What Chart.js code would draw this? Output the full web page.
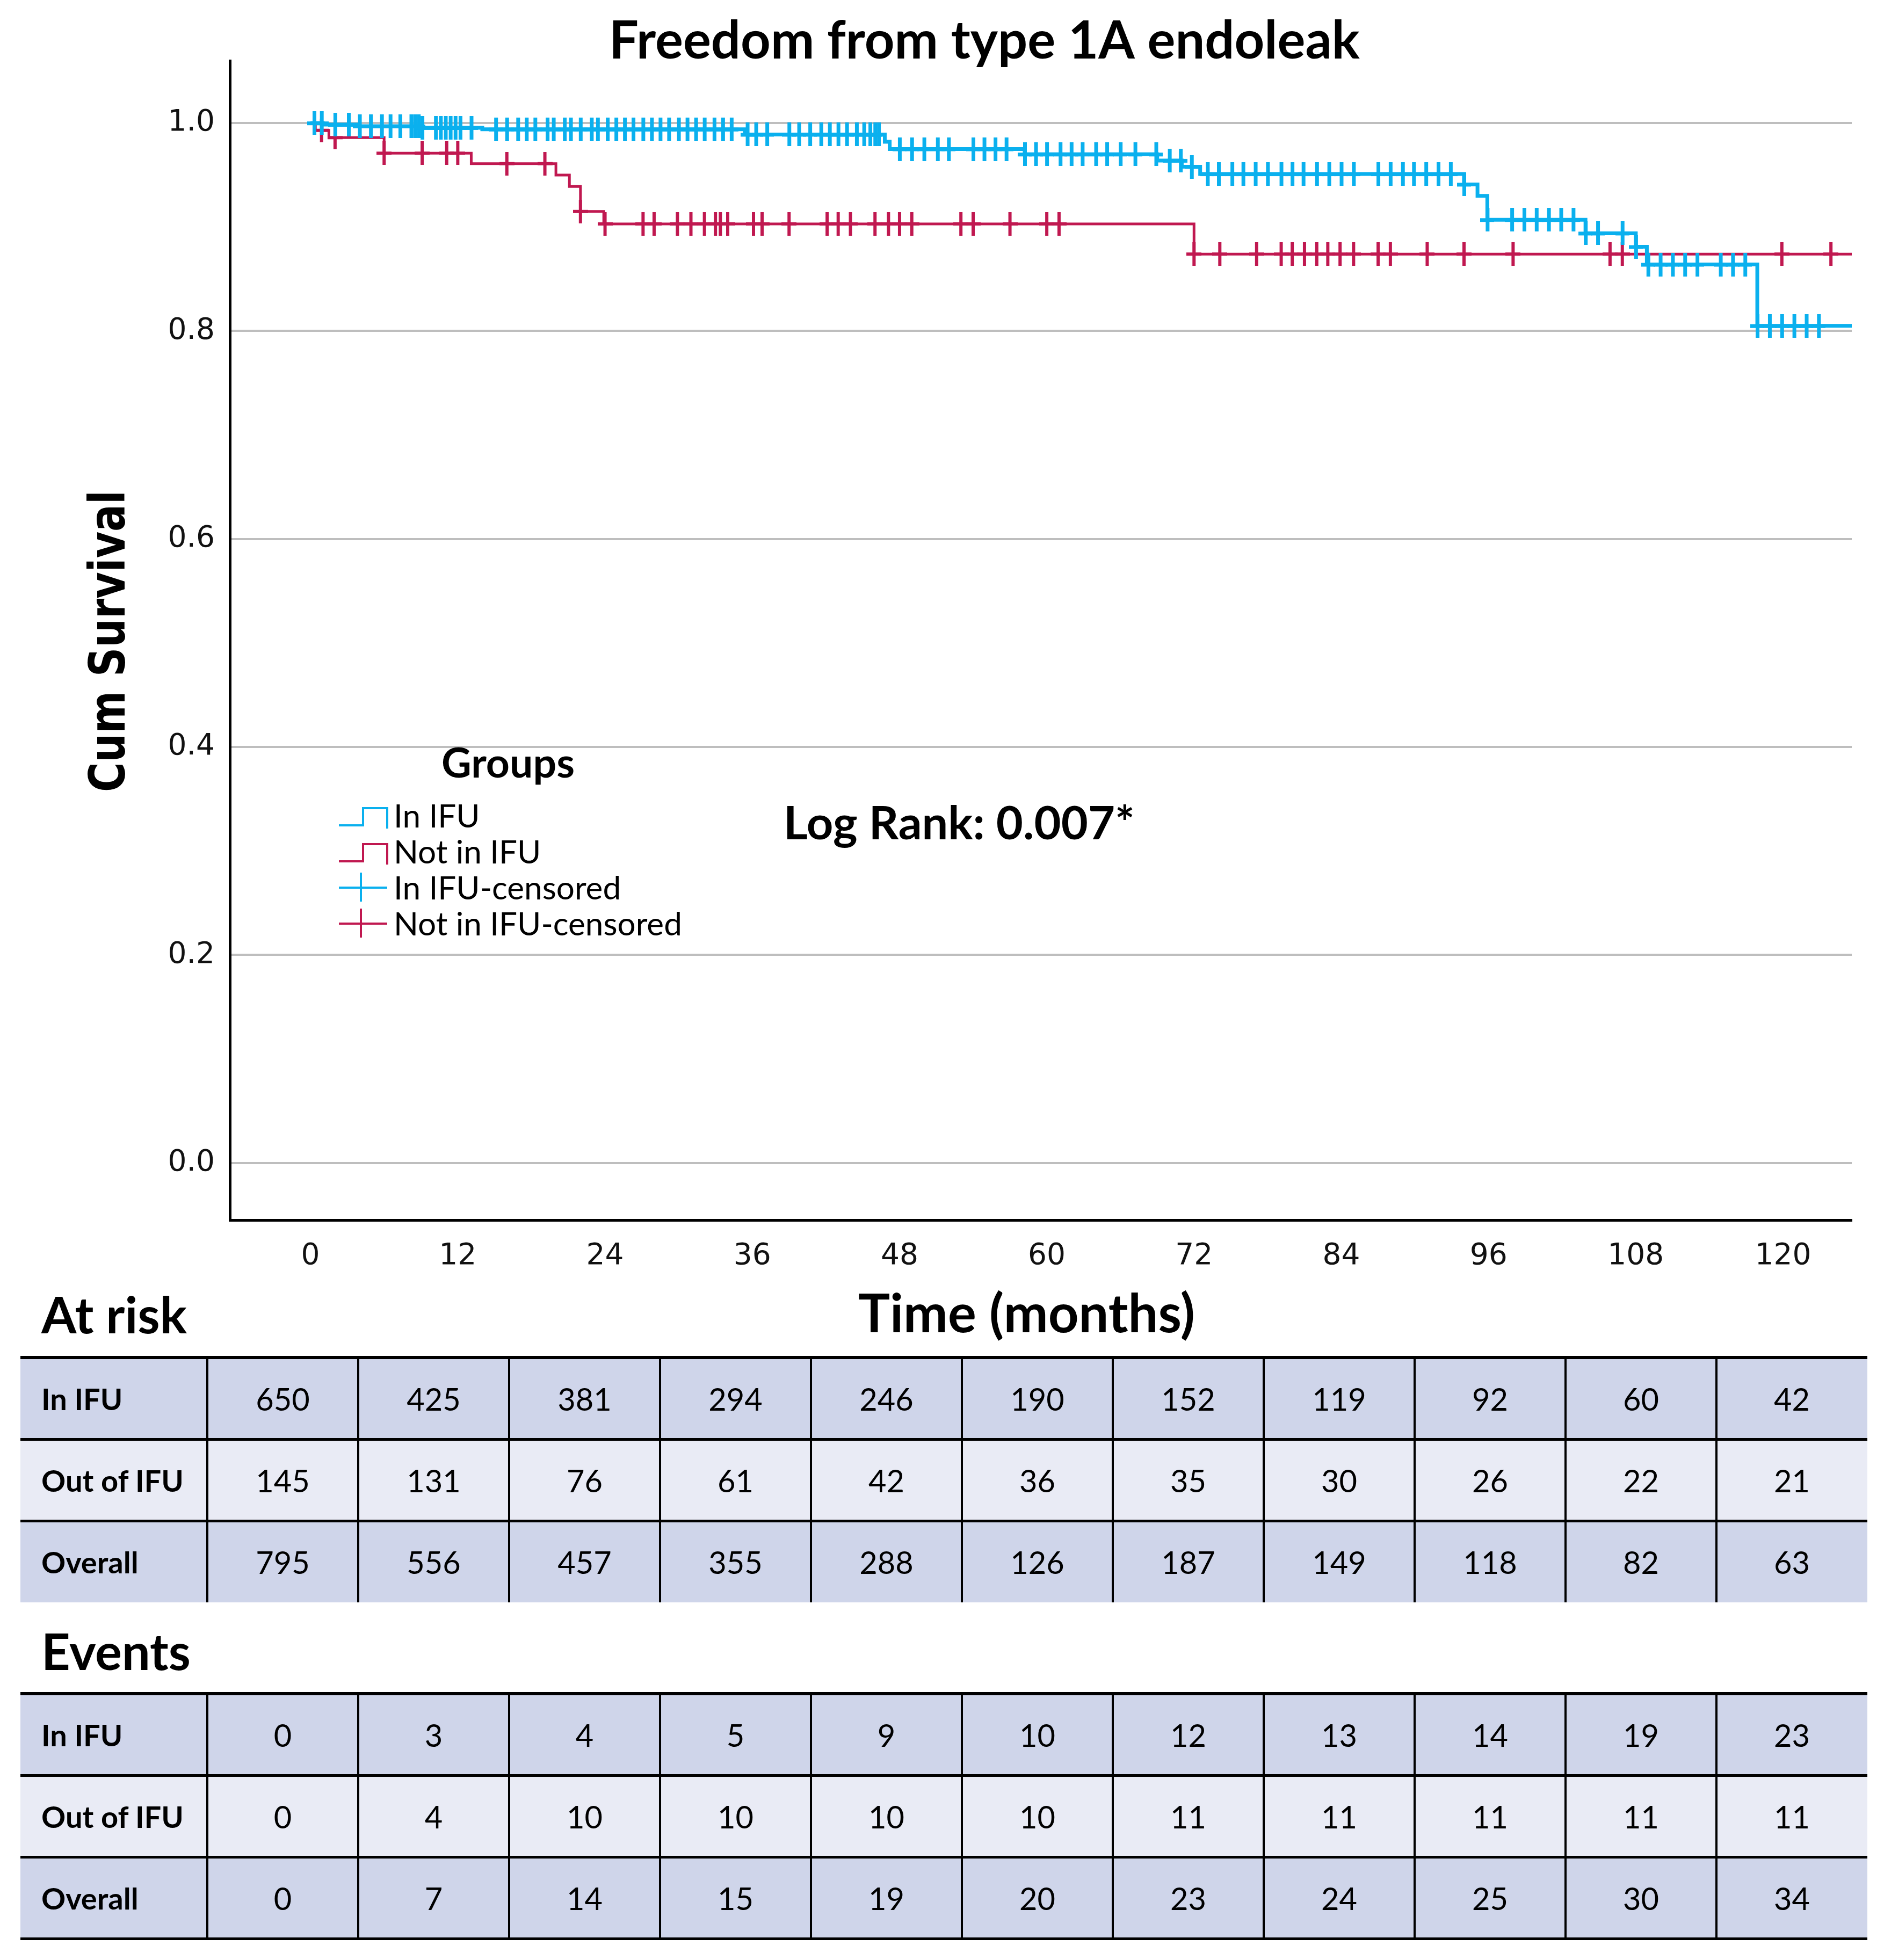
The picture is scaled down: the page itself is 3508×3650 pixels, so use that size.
<!DOCTYPE html>
<html>
<head>
<meta charset="utf-8">
<script src="https://cdn.jsdelivr.net/npm/chart.js@4.4.0/dist/chart.umd.min.js"></script>
<style>
html,body{margin:0;padding:0;background:#fff;}
#wrap{position:relative;width:3508px;height:3650px;overflow:hidden;background:#fff;}
#c{position:absolute;left:0;top:0;width:3508px;height:3650px;}
.box{position:absolute;}
.cell{position:absolute;display:flex;align-items:center;justify-content:center;font-family:Lato,sans-serif;color:#000;white-space:nowrap;}
.lab{justify-content:flex-start;font-weight:700;}
</style>
</head>
<body>
<div id="wrap"><canvas id="c" width="3508" height="3650"></canvas></div>
<script>
// ---------------- data ----------------
const xTickValues = [0, 12, 24, 36, 48, 60, 72, 84, 96, 108, 120];
const yTickValues = [0, 0.2, 0.4, 0.6, 0.8, 1.0];

const inIfuEventTimes = [1.0, 4.0, 9.0, 14.0, 35.4, 46.8, 47.2, 58.2, 69.0, 71.0, 72.5, 94.0, 95.1, 95.9, 103.9, 108.0, 108.9, 117.9];
const inIfuSurvival   = [0.9985, 0.997, 0.9955, 0.994, 0.989, 0.982, 0.975, 0.970, 0.964, 0.958, 0.951, 0.941, 0.930, 0.907, 0.894, 0.881, 0.864, 0.805];
const inIfuCensorTimes = [0.3, 0.9, 2.0, 3.1, 4.0, 4.9, 5.8, 6.5, 7.3, 8.2, 8.5, 8.8, 9.1, 10.2, 10.6, 11.0, 11.4, 11.8, 12.2, 13.1, 15.1, 16.0, 16.9, 17.6, 18.3, 19.3, 19.8, 20.7, 21.2, 22.0, 22.9, 23.4, 24.2, 24.9, 25.6, 26.3, 27.1, 27.8, 28.5, 29.2, 30.0, 30.7, 31.4, 32.1, 32.9, 33.6, 34.3, 35.6, 36.3, 37.2, 39.0, 39.8, 40.7, 41.6, 42.3, 43.0, 43.7, 44.5, 45.1, 45.6, 46.0, 46.3, 48.0, 49.0, 50.0, 51.1, 52.0, 54.0, 54.9, 55.8, 56.7, 58.2, 59.1, 60.0, 61.1, 62.0, 62.9, 64.0, 64.9, 66.0, 67.2, 68.9, 70.0, 70.9, 71.8, 73.1, 74.0, 75.1, 76.0, 77.0, 78.0, 79.1, 80.0, 80.9, 82.0, 83.0, 84.0, 85.0, 87.0, 88.0, 89.0, 89.9, 90.9, 91.9, 92.9, 94.0, 95.9, 97.9, 98.9, 99.9, 100.9, 101.9, 102.9, 103.9, 104.9, 106.9, 108.0, 109.0, 110.0, 111.0, 112.0, 113.0, 114.9, 115.9, 116.9, 117.9, 118.9, 119.9, 120.9, 121.9, 122.9];
const inIfuLastFollowUp = 126;

const notInIfuEventTimes = [0.4, 1.5, 6.0, 13.1, 20.0, 21.1, 22.0, 23.9, 72.0];
const notInIfuSurvival   = [0.993, 0.986, 0.971, 0.961, 0.950, 0.939, 0.915, 0.903, 0.874];
const notInIfuCensorTimes = [0.9, 2.0, 6.0, 9.1, 11.1, 12.0, 16.0, 19.1, 22.0, 24.0, 27.1, 28.0, 29.9, 31.0, 32.1, 33.0, 33.4, 34.0, 36.1, 36.8, 39.0, 42.1, 43.0, 44.0, 46.0, 47.1, 48.0, 49.0, 53.0, 54.0, 57.0, 60.0, 61.0, 72.0, 74.1, 77.1, 79.1, 80.0, 81.0, 82.0, 82.9, 83.9, 85.0, 87.0, 88.0, 91.0, 94.0, 98.0, 105.9, 106.9, 119.9, 123.9];
const notInIfuLastFollowUp = 126;

const rowLabels = ['In IFU', 'Out of IFU', 'Overall'];
const atRiskInIFU   = [650, 425, 381, 294, 246, 190, 152, 119, 92, 60, 42];
const atRiskOutIFU  = [145, 131, 76, 61, 42, 36, 35, 30, 26, 22, 21];
const atRiskOverall = [795, 556, 457, 355, 288, 126, 187, 149, 118, 82, 63];
const eventsInIFU   = [0, 3, 4, 5, 9, 10, 12, 13, 14, 19, 23];
const eventsOutIFU  = [0, 4, 10, 10, 10, 10, 11, 11, 11, 11, 11];
const eventsOverall = [0, 7, 14, 15, 19, 20, 23, 24, 25, 30, 34];

const legendLabels = ['In IFU', 'Not in IFU', 'In IFU-censored', 'Not in IFU-censored'];

// ---------------- styles ----------------
const BLUE = '#0AB0EE';
const RED = '#C01850';

const meas = document.createElement('canvas').getContext('2d');
function fitSize(text, weight, family, width) {
  meas.font = weight + ' 100px ' + family;
  return 100 * width / meas.measureText(text).width;
}
function stepData(times, surv, end) {
  const d = [{x: 0, y: 1}];
  times.forEach((t, i) => d.push({x: t, y: surv[i]}));
  d.push({x: end, y: surv[surv.length - 1]});
  return d;
}
function survAt(times, surv, t) {
  let s = 1;
  for (let i = 0; i < times.length; i++) if (times[i] <= t) s = surv[i];
  return s;
}
function censorData(cens, times, surv) {
  return cens.map(t => ({x: t, y: survAt(times, surv, t)}));
}
function plusMark(color, w, h, lwV, lwH) {
  const c = document.createElement('canvas');
  c.width = w; c.height = h;
  const g = c.getContext('2d');
  g.fillStyle = color;
  g.fillRect(Math.round((w - lwV) / 2), 0, lwV, h);
  g.fillRect(0, Math.round((h - lwH) / 2), w, lwH);
  return c;
}

function drawFitLeft(c, text, weight, family, left, width, baseline) {
  const s = fitSize(text, weight, family, width);
  c.font = weight + ' ' + s + 'px ' + family;
  c.textAlign = 'left';
  c.fillText(text, left, baseline);
  return s;
}

const annotations = {
  id: 'annotations',
  afterDraw(chart) {
    const c = chart.ctx;
    c.save();
    c.fillStyle = '#000';
    c.textBaseline = 'alphabetic';
    // title
    drawFitLeft(c, 'Freedom from type 1A endoleak', '700', 'Lato', 1134, 1398, 109);
    // y axis title (bold, condensed along its length)
    c.save();
    c.translate(232, 1194);
    c.rotate(-Math.PI / 2);
    c.font = 'bold 92px "DejaVu Sans"';
    const natural = c.measureText('Cum Survival').width;
    c.scale(562 / natural, 1);
    c.textAlign = 'center';
    c.fillText('Cum Survival', 0, 0);
    c.restore();
    // x axis title
    drawFitLeft(c, 'Time (months)', '700', 'Lato', 1598, 627, 2481);
    // table headers
    drawFitLeft(c, 'At risk', '700', 'Lato', 77, 271, 2483);
    drawFitLeft(c, 'Events', '700', 'Lato', 77, 278, 3110);
    // log rank
    drawFitLeft(c, 'Log Rank: 0.007*', '700', 'Lato', 1459, 654, 1563);
    // legend
    drawFitLeft(c, 'Groups', '700', 'Lato', 822, 248, 1448);
    const ls = fitSize('Not in IFU-censored', '400', 'Lato', 537);
    c.font = '400 ' + ls + 'px Lato';
    const baselines = [1541, 1608, 1675, 1742];
    legendLabels.forEach((t, i) => c.fillText(t, 733, baselines[i]));
    const cols = [BLUE, RED, BLUE, RED];
    c.lineWidth = 4;
    c.lineJoin = 'miter';
    for (let i = 0; i < 2; i++) {
      const b = baselines[i];
      c.strokeStyle = cols[i];
      c.beginPath();
      c.moveTo(631, b - 4); c.lineTo(676, b - 4); c.lineTo(676, b - 36);
      c.lineTo(721, b - 36); c.lineTo(721, b + 2);
      c.stroke();
    }
    for (let i = 2; i < 4; i++) {
      const b = baselines[i];
      c.strokeStyle = cols[i];
      c.beginPath();
      c.moveTo(631, b - 22); c.lineTo(721, b - 22);
      c.moveTo(672, b - 50); c.lineTo(672, b + 4);
      c.stroke();
    }
    c.restore();
  }
};

const ctx = document.getElementById('c').getContext('2d');
new Chart(ctx, {
  type: 'scatter',
  data: {
    datasets: [
      {label: 'In IFU-censored', data: censorData(inIfuCensorTimes, inIfuEventTimes, inIfuSurvival),
       pointStyle: plusMark(BLUE, 26, 44, 7, 7), pointRadius: 12, showLine: false},
      {label: 'In IFU', data: stepData(inIfuEventTimes, inIfuSurvival, inIfuLastFollowUp),
       showLine: true, stepped: true, borderColor: BLUE, borderWidth: 7, pointRadius: 0, fill: false},
      {label: 'Not in IFU-censored', data: censorData(notInIfuCensorTimes, notInIfuEventTimes, notInIfuSurvival),
       pointStyle: plusMark(RED, 28, 44, 6, 6), pointRadius: 12, showLine: false},
      {label: 'Not in IFU', data: stepData(notInIfuEventTimes, notInIfuSurvival, notInIfuLastFollowUp),
       showLine: true, stepped: true, borderColor: RED, borderWidth: 5, pointRadius: 0, fill: false}
    ]
  },
  options: {
    responsive: false,
    animation: false,
    devicePixelRatio: 1,
    layout: {padding: {top: 113, right: 60, left: 0, bottom: 0}},
    plugins: {legend: {display: false}, tooltip: {enabled: false}, title: {display: false}},
    scales: {
      x: {
        type: 'linear', min: -6.57, max: 125.6,
        afterBuildTicks: s => { s.ticks = xTickValues.map(v => ({value: v})); },
        afterFit: s => { s.height = 3650 - 2272; },
        grid: {display: false, drawTicks: false},
        border: {display: true, color: '#000', width: 5},
        ticks: {font: {family: 'DejaVu Sans', size: 55}, color: '#111', padding: 35,
                maxRotation: 0, autoSkip: false, callback: v => String(v)}
      },
      y: {
        type: 'linear', min: -0.055, max: 1.06,
        afterBuildTicks: s => { s.ticks = yTickValues.map(v => ({value: v})); },
        afterFit: s => { s.width = 428; },
        grid: {color: '#BEBEBE', lineWidth: 4, drawTicks: false},
        border: {display: true, color: '#000', width: 5},
        ticks: {font: {family: 'DejaVu Sans', size: 55}, color: '#111', padding: 28,
                autoSkip: false, callback: v => Number(v).toFixed(1)}
      }
    }
  },
  plugins: [annotations]
});

// ---------------- tables ----------------
const wrap = document.getElementById('wrap');
const T_LEFT = 38, FIRST_W = 348, COL_W = 281, ROW_H = 152;
const numSize = fitSize('650', '400', 'Lato', 93) * 1.08;
const labSize = fitSize('Out of IFU', '700', 'Lato', 266);
function addDiv(cls, l, t, w, h, bg, text, fs) {
  const d = document.createElement('div');
  d.className = cls;
  d.style.left = l + 'px'; d.style.top = t + 'px';
  d.style.width = w + 'px'; d.style.height = h + 'px';
  if (bg) d.style.background = bg;
  if (text !== undefined) { d.textContent = text; d.style.fontSize = fs + 'px'; }
  wrap.appendChild(d);
  return d;
}
function buildTable(top, rows, bottomLine) {
  const W = FIRST_W + COL_W * 11;
  rows.forEach((vals, ri) => {
    const y = top + ri * ROW_H;
    addDiv('box', T_LEFT, y, W, ROW_H, ri === 1 ? '#E9EBF5' : '#CFD5EA');
    addDiv('cell lab', T_LEFT + 39, y, FIRST_W - 39, ROW_H, null, rowLabels[ri], labSize);
    vals.forEach((v, j) => {
      addDiv('cell', T_LEFT + FIRST_W + j * COL_W, y, COL_W, ROW_H, null, String(v), numSize);
    });
  });
  addDiv('box', T_LEFT, top - 3, W, 6, '#000');
  for (let k = 1; k < 3; k++) addDiv('box', T_LEFT, top + k * ROW_H - 2.5, W, 5, '#000');
  if (bottomLine) addDiv('box', T_LEFT, top + 3 * ROW_H - 2.5, W, 5, '#000');
  for (let j = 0; j < 11; j++) addDiv('box', T_LEFT + FIRST_W + j * COL_W - 2, top, 4, 3 * ROW_H, '#000');
}
buildTable(2528, [atRiskInIFU, atRiskOutIFU, atRiskOverall], false);
buildTable(3154, [eventsInIFU, eventsOutIFU, eventsOverall], true);
</script>
</body>
</html>
